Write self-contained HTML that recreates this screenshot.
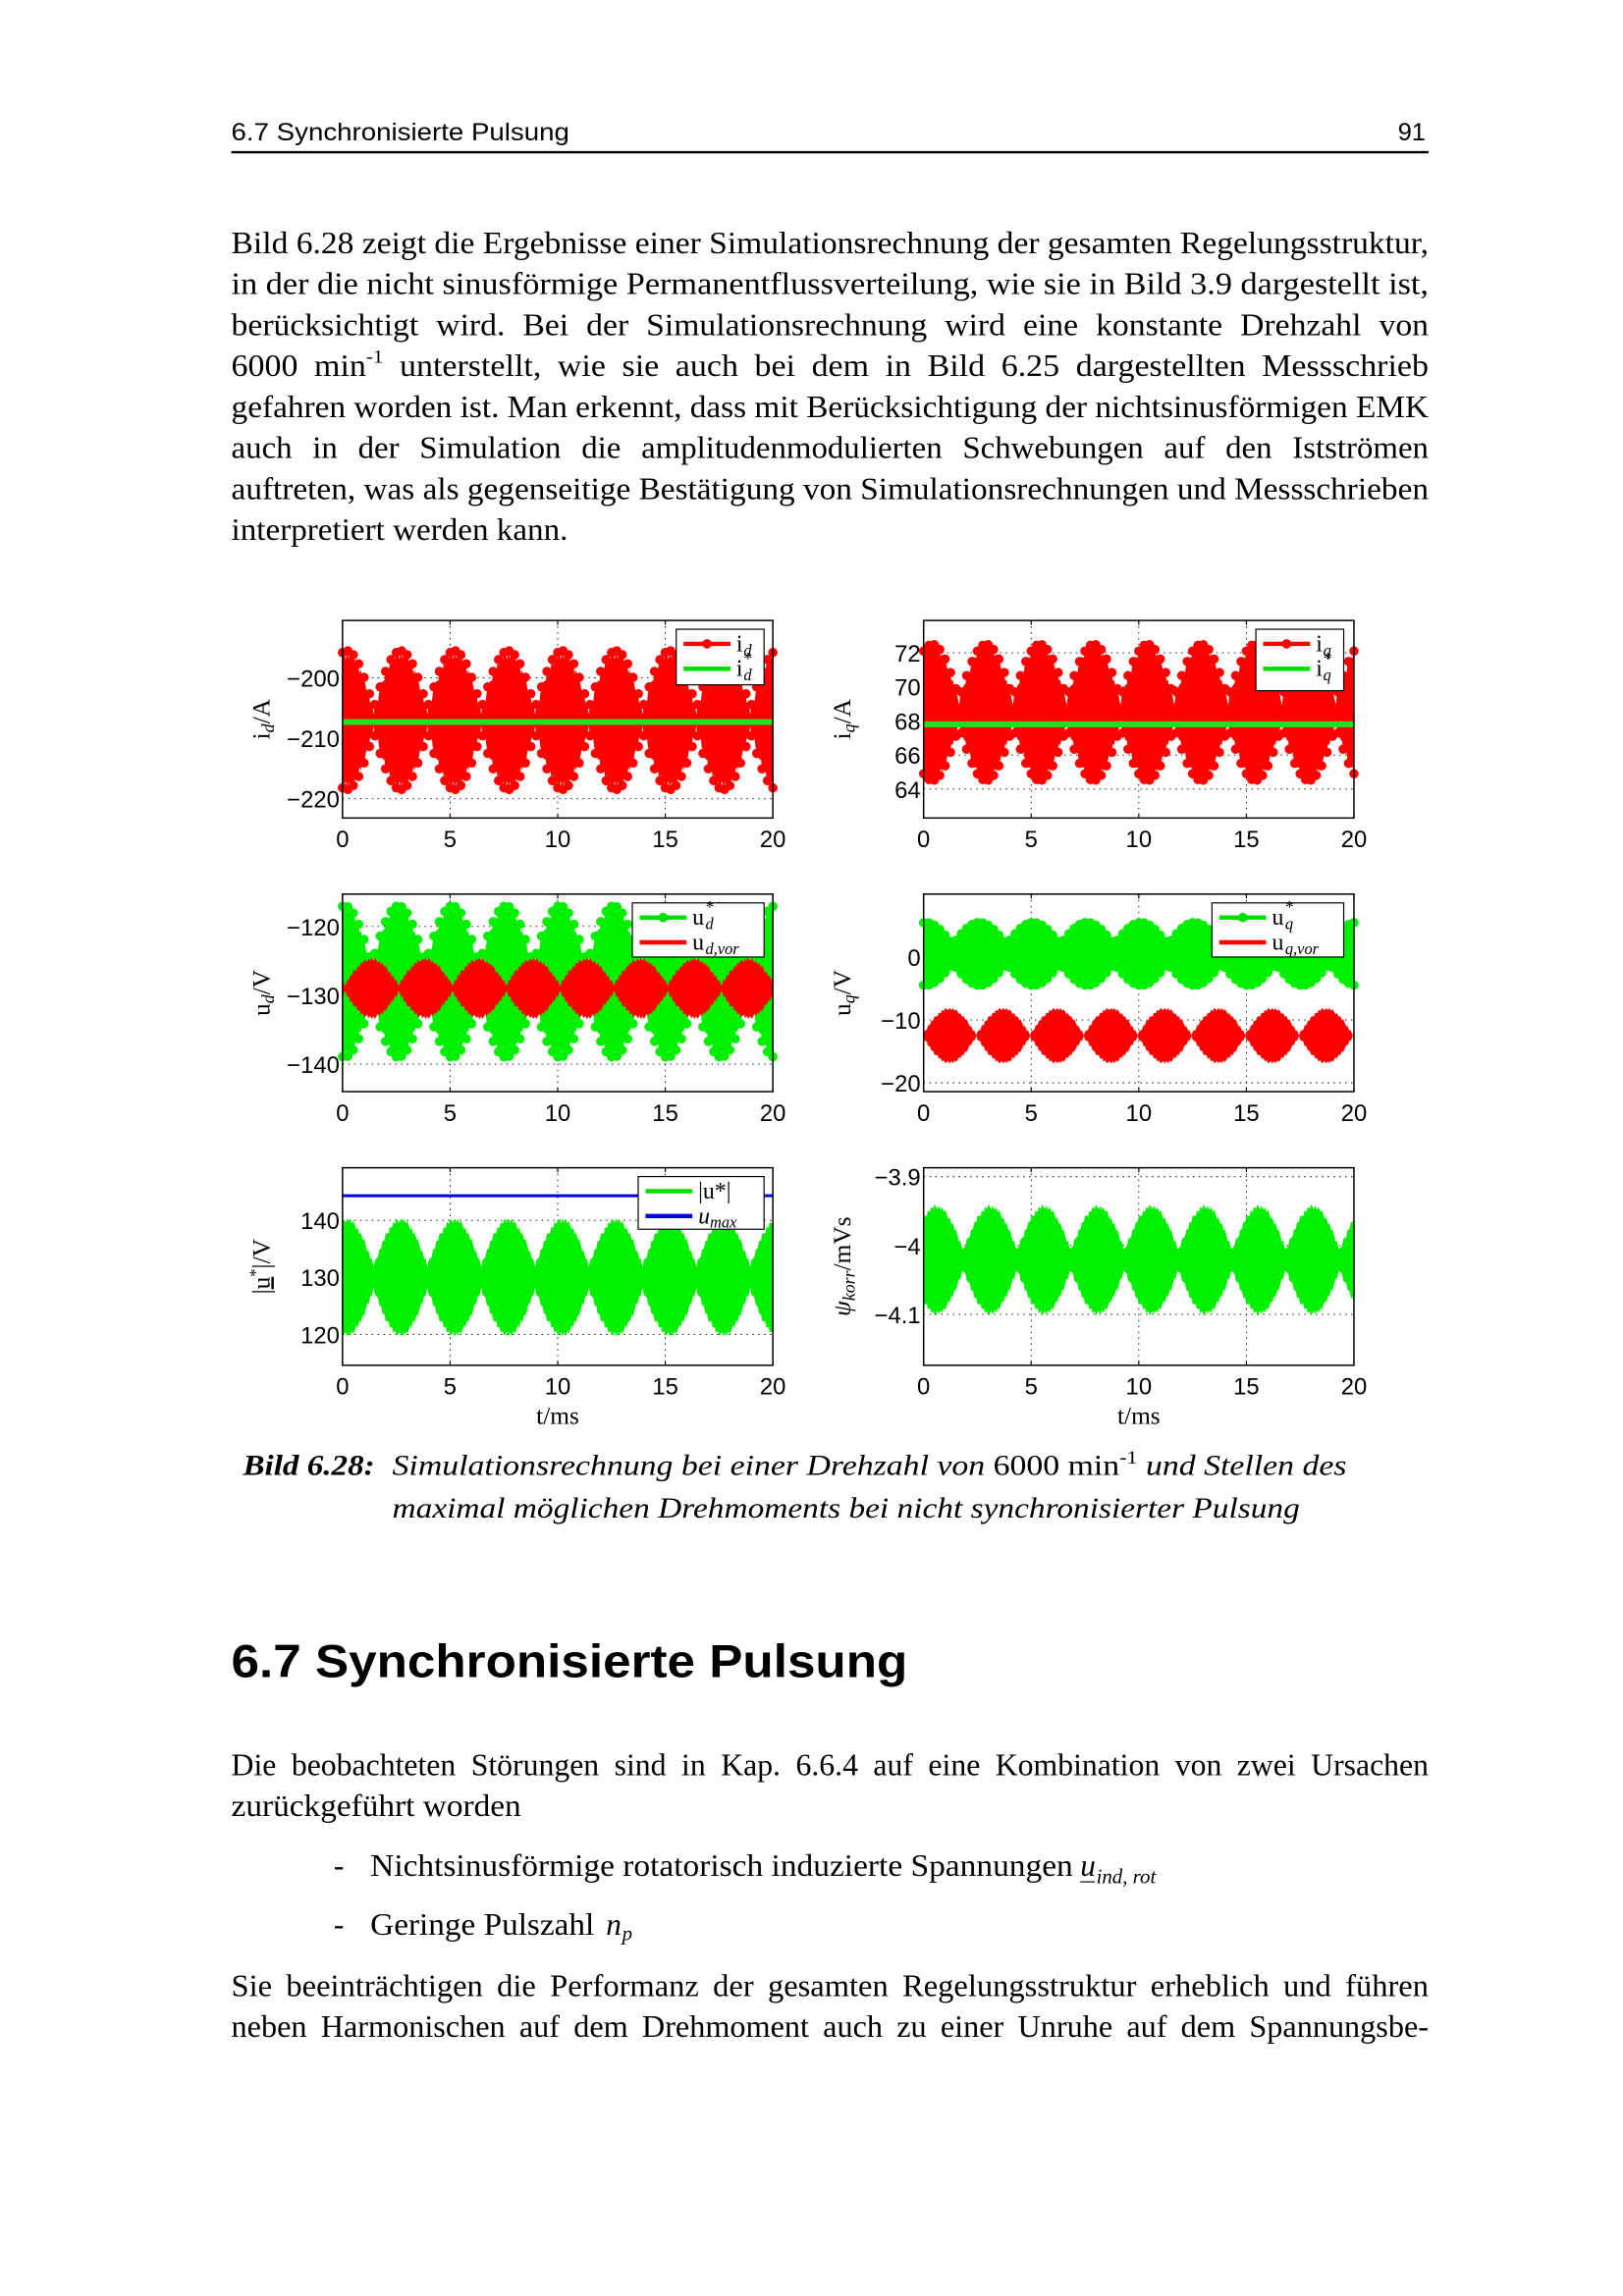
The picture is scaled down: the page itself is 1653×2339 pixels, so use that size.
<!DOCTYPE html>
<html><head><meta charset="utf-8"><style>
html,body{margin:0;padding:0;background:#fff;}
svg{display:block;}
.s{font-family:"Liberation Sans",sans-serif;}
.r{font-family:"Liberation Serif",serif;}
</style></head><body>
<svg id="pg" width="1653" height="2339" viewBox="0 0 1108.8 1569" xmlns="http://www.w3.org/2000/svg">
<text class="s" x="158" y="96" font-size="17" textLength="231" lengthAdjust="spacingAndGlyphs">6.7 Synchronisierte Pulsung</text>
<text class="s" x="955" y="96" font-size="17">91</text>
<line x1="158" y1="104" x2="976" y2="104" stroke="#000" stroke-width="1.6"/>
<g class="r" font-size="21">
<text x="158" y="173" textLength="818" lengthAdjust="spacingAndGlyphs">Bild 6.28 zeigt die Ergebnisse einer Simulationsrechnung der gesamten Regelungsstruktur,</text>
<text x="158" y="201" textLength="818" lengthAdjust="spacingAndGlyphs">in der die nicht sinusförmige Permanentflussverteilung, wie sie in Bild 3.9 dargestellt ist,</text>
<text x="158" y="229" textLength="818" lengthAdjust="spacingAndGlyphs" word-spacing="6">berücksichtigt wird. Bei der Simulationsrechnung wird eine konstante Drehzahl von</text>
<text x="158" y="257" textLength="818" lengthAdjust="spacingAndGlyphs" word-spacing="5">6000 min<tspan dy="-9" font-size="13">-1</tspan><tspan dy="9"> unterstellt, wie sie auch bei dem in Bild 6.25 dargestellten Messschrieb</tspan></text>
<text x="158" y="285" textLength="818" lengthAdjust="spacingAndGlyphs">gefahren worden ist. Man erkennt, dass mit Berücksichtigung der nichtsinusförmigen EMK</text>
<text x="158" y="313" textLength="818" lengthAdjust="spacingAndGlyphs" word-spacing="8">auch in der Simulation die amplitudenmodulierten Schwebungen auf den Istströmen</text>
<text x="158" y="341" textLength="818" lengthAdjust="spacingAndGlyphs">auftreten, was als gegenseitige Bestätigung von Simulationsrechnungen und Messschrieben</text>
<text x="158" y="369" textLength="230" lengthAdjust="spacingAndGlyphs">interpretiert werden kann.</text>
</g>
<g id="plots"></g>
<g class="r" font-size="20" font-style="italic">
<text x="166" y="1008" font-weight="bold" textLength="90" lengthAdjust="spacingAndGlyphs">Bild 6.28:</text>
<text x="268" y="1008" textLength="652" lengthAdjust="spacingAndGlyphs">Simulationsrechnung bei einer Drehzahl von <tspan font-style="normal">6000 min</tspan><tspan font-style="normal" dy="-8" font-size="13">-1</tspan><tspan dy="8"> und Stellen des</tspan></text>
<text x="268" y="1037" textLength="620" lengthAdjust="spacingAndGlyphs">maximal möglichen Drehmoments bei nicht synchronisierter Pulsung</text>
</g>
<text class="s" x="158" y="1146" font-size="32" font-weight="bold" textLength="462" lengthAdjust="spacingAndGlyphs">6.7  Synchronisierte Pulsung</text>
<g class="r" font-size="21">
<text x="158" y="1213" textLength="818" lengthAdjust="spacingAndGlyphs" word-spacing="5">Die beobachteten Störungen sind in Kap. 6.6.4 auf eine Kombination von zwei Ursachen</text>
<text x="158" y="1241" textLength="198" lengthAdjust="spacingAndGlyphs">zurückgeführt worden</text>
<text x="228" y="1282">-</text>
<text x="253" y="1282" textLength="480" lengthAdjust="spacingAndGlyphs">Nichtsinusförmige rotatorisch induzierte Spannungen</text>
<text x="738" y="1282" font-style="italic">u</text><line x1="738" y1="1286" x2="748" y2="1286" stroke="#000" stroke-width="0.8"/>
<text x="749" y="1287" font-style="italic" font-size="14">ind, rot</text>
<text x="228" y="1322">-</text>
<text x="253" y="1322" textLength="153" lengthAdjust="spacingAndGlyphs">Geringe Pulszahl</text>
<text x="414" y="1322" font-style="italic">n</text><text x="425" y="1326" font-style="italic" font-size="14">p</text>
<text x="158" y="1364" textLength="818" lengthAdjust="spacingAndGlyphs" word-spacing="4">Sie beeinträchtigen die Performanz der gesamten Regelungsstruktur erheblich und führen</text>
<text x="158" y="1392" textLength="818" lengthAdjust="spacingAndGlyphs" word-spacing="4">neben Harmonischen auf dem Drehmoment auch zu einer Unruhe auf dem Spannungsbe-</text>
</g>
</svg>
<script>
var NS="http://www.w3.org/2000/svg",G=document.getElementById("plots");
function el(n,a,p){var e=document.createElementNS(NS,n);for(var k in a)e.setAttribute(k,a[k]);(p||G).appendChild(e);return e;}
function tx(x,y,s,a,p){var e=el("text",Object.assign({x:x,y:y},a||{}),p);e.innerHTML=s;return e;}
function plot(o){
 var X0=o.x,X1=o.x+294,Y0=o.y,Y1=o.y+135;
 var fx=function(t){return X0+(t/20)*(X1-X0);},fy=function(v){return Y1-(v-o.ymin)/(o.ymax-o.ymin)*(Y1-Y0);};
 var g=el("g",{});
 var cp="c"+o.x+"_"+o.y;var d=el("defs",{},g);var c=el("clipPath",{id:cp},d);el("rect",{x:X0-6,y:Y0,width:300+6,height:135},c);
 [5,10,15].forEach(function(t){el("line",{x1:fx(t),x2:fx(t),y1:Y0,y2:Y1,stroke:"#000","stroke-width":0.6,"stroke-dasharray":"1,3"},g);});
 o.ticks.forEach(function(v){el("line",{x1:X0,x2:X1,y1:fy(v),y2:fy(v),stroke:"#000","stroke-width":0.6,"stroke-dasharray":"1,3"},g);});
 var pg=el("g",{"clip-path":"url(#"+cp+")"},g);
 o.bands.forEach(function(b){
  var up=[],dn=[],N=400;
  for(var i=0;i<=N;i++){var t=20*i/N;var env=b.amin+(b.amax-b.amin)*Math.abs(Math.cos(Math.PI*(t-b.t0)/2.5));
   var rip=(b.rip||0)*((t*6)%1);
   up.push(fx(t).toFixed(2)+","+fy(b.c+env-rip).toFixed(2));dn.push(fx(t).toFixed(2)+","+fy(b.c-env+rip).toFixed(2));}
  el("polygon",{points:up.concat(dn.reverse()).join(" "),fill:b.col},pg);
  if(b.dots){for(var j=0;j<=80;j++){var t=20*j/80;var env=b.amin+(b.amax-b.amin)*Math.abs(Math.cos(Math.PI*(t-b.t0)/2.5));
   el("circle",{cx:fx(t),cy:fy(b.c+env),r:3.2,fill:b.col},pg);el("circle",{cx:fx(t),cy:fy(b.c-env),r:3.2,fill:b.col},pg);}}
 });
 (o.lines||[]).forEach(function(l){el("line",{x1:X0,x2:X1,y1:fy(l.v),y2:fy(l.v),stroke:l.col,"stroke-width":l.w},pg);});
 el("rect",{x:X0,y:Y0,width:X1-X0,height:Y1-Y0,fill:"none",stroke:"#000","stroke-width":1},g);
 [0,5,10,15,20].forEach(function(t){el("line",{x1:fx(t),x2:fx(t),y1:Y1,y2:Y1-3,stroke:"#000","stroke-width":0.8},g);el("line",{x1:fx(t),x2:fx(t),y1:Y0,y2:Y0+3,stroke:"#000","stroke-width":0.8},g);
  tx(fx(t),Y1+20,""+t,{"text-anchor":"middle","class":"s","font-size":16},g);});
 o.ticks.forEach(function(v,i){tx(X0-2,fy(v)+6,o.tl[i],{"text-anchor":"end","class":"s","font-size":16},g);});
 var yl=el("text",{x:0,y:0,"class":"r","font-size":17,"text-anchor":"middle",transform:"translate("+(X0-50)+","+((Y0+Y1)/2)+") rotate(-90)"},g);yl.innerHTML=o.ylab;
 if(o.xlab)tx((X0+X1)/2,Y1+40,"t/ms",{"text-anchor":"middle","class":"r","font-size":17},g);
 if(o.leg){var L=o.leg;el("rect",{x:L.x,y:L.y,width:L.w,height:L.h,fill:"#fff",stroke:"#000","stroke-width":0.8},g);
  L.items.forEach(function(it,k){var yy=L.y+10+k*17;el("line",{x1:L.x+5,x2:L.x+37,y1:yy,y2:yy,stroke:it.col,"stroke-width":3},g);
   if(it.dot)el("circle",{cx:L.x+21,cy:yy,r:3.2,fill:it.col},g);
   tx(L.x+41,yy+5,it.t[0],{"class":"r","font-size":16},g);
   var w=it.t[0]=="i"?5:9;
   if(it.t[1])tx(L.x+41+w,yy+8,it.t[1],{"class":"r","font-size":11,"font-style":"italic"},g);
   if(it.star)tx(L.x+41+w,yy-3,"*",{"class":"r","font-size":12},g);});}
}
plot({x:234,y:424,ymin:-223.2,ymax:-190.5,ticks:[-200,-210,-220],tl:["−200","−210","−220"],ylab:"i<tspan font-style='italic' font-size='12' dy='3'>d</tspan><tspan dy='-3'>/A</tspan>",
 bands:[{c:-207,amin:2,amax:11.5,t0:0.2,col:"#f00",dots:true,rip:1.5}],lines:[{v:-207.3,col:"#1ee21e",w:4}],
 leg:{x:462,y:430,w:60,h:38,items:[{col:"#f00",dot:true,t:["i","d"]},{col:"#00e000",t:["i","d"],star:1}]}});
plot({x:631,y:424,ymin:62.3,ymax:73.9,ticks:[72,70,68,66,64],tl:["72","70","68","66","64"],ylab:"i<tspan font-style='italic' font-size='12' dy='3'>q</tspan><tspan dy='-3'>/A</tspan>",
 bands:[{c:68.5,amin:0.8,amax:4,t0:0.4,col:"#f00",dots:true,rip:0.4}],lines:[{v:67.8,col:"#1ee21e",w:4}],
 leg:{x:858,y:430,w:60,h:42,items:[{col:"#f00",dot:true,t:["i","q"]},{col:"#00e000",t:["i","q"],star:1}]}});
plot({x:234,y:611,ymin:-144,ymax:-115.3,ticks:[-120,-130,-140],tl:["−120","−130","−140"],ylab:"u<tspan font-style='italic' font-size='12' dy='3'>d</tspan><tspan dy='-3'>/V</tspan>",
 bands:[{c:-128,amin:2.5,amax:11,t0:0.1,col:"#00f000",dots:true,rip:1},{c:-129,amin:0.8,amax:4.5,t0:1.35,col:"#f00",rip:0.6}],
 leg:{x:432,y:617,w:90,h:37,items:[{col:"#00e000",dot:true,t:["u","d"],star:1},{col:"#f00",t:["u","d,vor"]}]}});
plot({x:631,y:611,ymin:-21.4,ymax:10,ticks:[0,-10,-20],tl:["0","−10","−20"],ylab:"u<tspan font-style='italic' font-size='12' dy='3'>q</tspan><tspan dy='-3'>/V</tspan>",
 bands:[{c:0.5,amin:1.5,amax:5,t0:0.1,col:"#00f000",dots:true,rip:0.6},{c:-12.5,amin:0.4,amax:4.5,t0:1.2,col:"#f00",rip:0.5}],
 leg:{x:828,y:617,w:90,h:37,items:[{col:"#00e000",dot:true,t:["u","q"],star:1},{col:"#f00",t:["u","q,vor"]}]}});
plot({x:234,y:798,ymin:114.6,ymax:149.2,ticks:[140,130,120],tl:["140","130","120"],xlab:true,ylab:"|<tspan text-decoration='underline'>u</tspan><tspan dy='-6' font-size='11'>*</tspan><tspan dy='6'>|/V</tspan>",
 bands:[{c:130,amin:2.5,amax:10.5,t0:0.2,col:"#00f000",rip:1}],lines:[{v:144.3,col:"#0000e0",w:2}],
 leg:{x:436,y:804,w:86,h:36,items:[{col:"#00e000",t:["|u*|"]},{col:"#0000e0",t:["<tspan font-style='italic'>u</tspan><tspan dy='3' font-size='11' font-style='italic'>max</tspan>"]}]}});
plot({x:631,y:798,ymin:-4.174,ymax:-3.887,ticks:[-3.9,-4,-4.1],tl:["−3.9","−4","−4.1"],xlab:true,ylab:"<tspan font-style='italic'>ψ</tspan><tspan dy='3' font-size='12' font-style='italic'>korr</tspan><tspan dy='-3'>/mVs</tspan>",
 bands:[{c:-4.021,amin:0.018,amax:0.081,t0:0.6,col:"#00f000",rip:0.008}]});
</script>
</body></html>
